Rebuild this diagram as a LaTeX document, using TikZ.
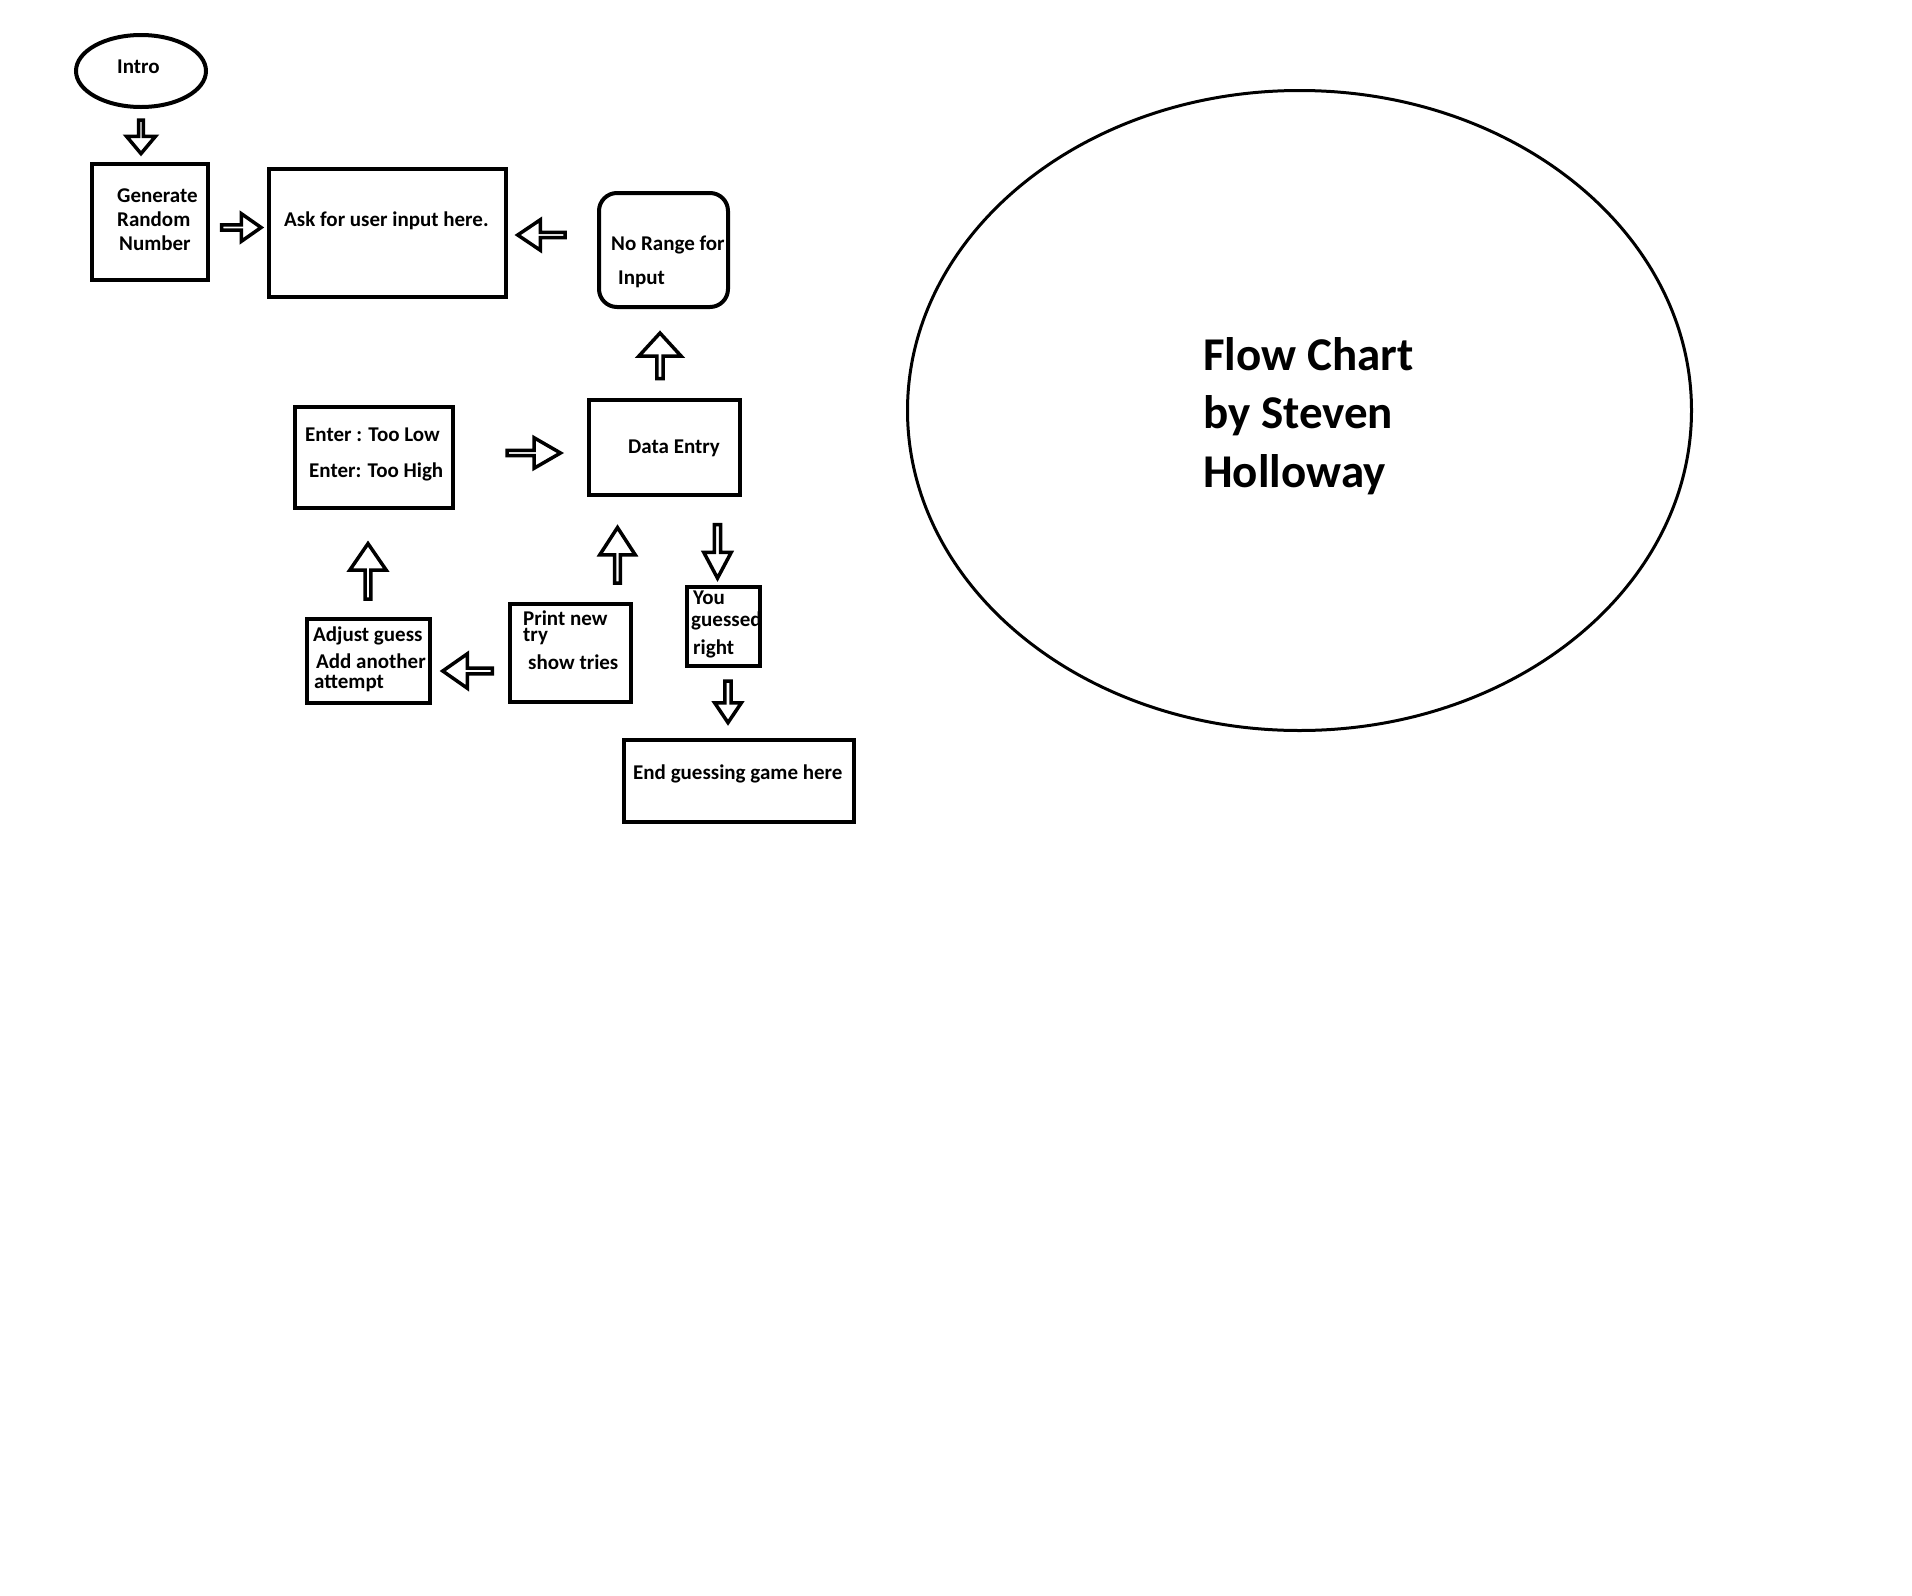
\documentclass[tikz,border=0pt]{standalone}
\usepackage{fontspec}
\setmainfont{Carlito}
\usetikzlibrary{shapes.geometric,shapes.arrows}

\begin{document}
\begin{tikzpicture}[x=1pt,y=-1pt,
  box/.style={draw,line width=4pt,inner sep=0pt},
  barrow/.style 2 args={draw,single arrow,line width=3.5pt,inner sep=0pt,
    single arrow head extend=#1pt,single arrow tip angle=#2},
  txt/.style={anchor=base west,inner sep=0pt,align=left,
    font=\fontsize{21}{25}\selectfont\bfseries}]

\useasboundingbox (0,0) rectangle (1912,1596);

% boxes
\node[box,ellipse,minimum width=130pt,minimum height=72pt] (intro) at (141,71) {};
\node[box,minimum width=116pt,minimum height=116pt] (gen) at (150,222) {};
\node[box,minimum width=237pt,minimum height=128pt] (ask) at (387.5,233) {};
\node[box,rounded corners=18pt,minimum width=129pt,minimum height=114pt] (norange) at (663.5,250) {};
\node[box,minimum width=151pt,minimum height=95pt] (data) at (664.5,447.5) {};
\node[box,minimum width=158pt,minimum height=101pt] (enter) at (374,457.5) {};
\node[box,minimum width=123pt,minimum height=84pt] (adjust) at (368.5,661) {};
\node[box,minimum width=121pt,minimum height=98pt] (print) at (570.5,653) {};
\node[box,minimum width=73pt,minimum height=79pt] (you) at (723.5,626.5) {};
\node[box,minimum width=230pt,minimum height=82pt] (end) at (739,781) {};
\node[draw,ellipse,line width=3pt,minimum width=784pt,minimum height=640pt] (title) at (1299.5,410.5) {};

% texts (base = last line)
\node[txt] (intro-t) at (117,73) {Intro};
\node[txt] (gen-t) at (117,250) {Generate\\[-1pt]Random\\[-1pt]\hspace*{2pt}Number};
\node[txt] (ask-t) at (284,226) {Ask for user input here.};
\node[txt] (norange-t) at (611,284) {No Range for\\[9pt]\hspace*{7pt}Input};
\node[txt] (data-t) at (628,453) {Data Entry};
\node[txt] (enter-t) at (305,477) {Enter : Too Low\\[11pt]\hspace*{4pt}Enter: Too High};
\node[txt] (adjust-t) at (313,688) {Adjust guess\\[2pt]\hspace*{3pt}Add another\\[-5pt]\hspace*{1pt}attempt};
\node[txt] (print-t) at (523,669) {Print new\\[-9pt]try\\[3pt]\hspace*{5pt}show tries};
\begin{scope}
  \clip (you.north west) rectangle (you.south east);
  \node[txt] (you-t) at (693,654) {You\\[-3pt]\hspace*{-2pt}guessed\\[3pt]right};
\end{scope}
\node[txt] (end-t) at (633,779) {End guessing game here};
\node[txt,font=\fontsize{47}{58.5}\selectfont\bfseries] (title-t) at (1203,487) {Flow Chart\\by Steven\\Holloway};

% block arrows
\node[barrow={9.4}{80},minimum height=33.5pt,minimum width=29pt,rotate=-90] (a1) at (141,135.5) {};
\node[barrow={7.5}{70},minimum height=39.5pt,minimum width=27.5pt] (a2) at (239.5,227.5) {};
\node[barrow={8}{68},minimum height=47.5pt,minimum width=30.5pt,rotate=180] (a3) at (543.5,235) {};
\node[barrow={10}{85},minimum height=45.5pt,minimum width=42.5pt,rotate=90] (a4) at (660,357.5) {};
\node[barrow={8.5}{60},minimum height=53.5pt,minimum width=30.5pt] (a5) at (531.5,453) {};
\node[barrow={9}{69},minimum height=55.5pt,minimum width=36.5pt,rotate=90] (a6) at (368,573.5) {};
\node[barrow={9}{70},minimum height=49.5pt,minimum width=34.5pt,rotate=180] (a7) at (469.5,671) {};
\node[barrow={9}{66},minimum height=55.5pt,minimum width=35.5pt,rotate=90] (a8) at (617.5,557.5) {};
\node[barrow={6}{56},minimum height=53.5pt,minimum width=27.5pt,rotate=-90] (a9) at (717.5,548.5) {};
\node[barrow={5.5}{68},minimum height=41.5pt,minimum width=26.5pt,rotate=-90] (a10) at (728,699.5) {};

\end{tikzpicture}
\end{document}
